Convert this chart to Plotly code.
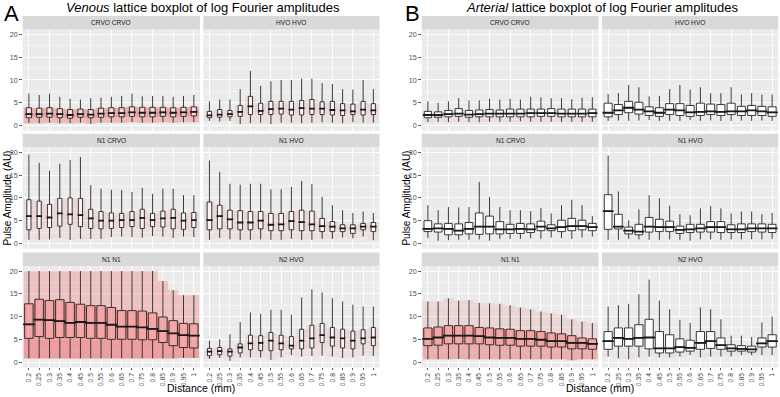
import plotly.graph_objects as go

# ---------------- data ----------------
distances = ["0.2", "0.25", "0.3", "0.35", "0.4", "0.45", "0.5", "0.55", "0.6",
             "0.65", "0.7", "0.75", "0.8", "0.85", "0.9", "0.95", "1"]

# Venous
ven_crvo_crvo_lo = [0.5, 0.5, 0.6, 0.5, 0.5, 0.6, 0.4, 0.6, 0.6, 0.6, 0.7, 0.6, 0.6, 0.7, 0.6, 0.7, 0.7]
ven_crvo_crvo_q1 = [1.7, 1.8, 1.8, 1.7, 1.6, 1.8, 1.7, 1.8, 1.9, 1.9, 2.0, 1.9, 1.9, 2.0, 1.9, 2.0, 2.1]
ven_crvo_crvo_med = [2.5, 2.5, 2.6, 2.5, 2.3, 2.5, 2.4, 2.6, 2.7, 2.7, 2.9, 2.8, 2.8, 2.9, 2.8, 2.9, 3.0]
ven_crvo_crvo_q3 = [3.9, 3.8, 3.9, 3.7, 3.5, 3.6, 3.5, 3.8, 3.9, 3.9, 4.1, 4.0, 4.0, 4.0, 3.9, 4.0, 4.1]
ven_crvo_crvo_hi = [7.0, 6.7, 7.0, 6.3, 5.9, 5.7, 6.0, 6.1, 6.3, 6.5, 7.0, 6.4, 6.5, 6.5, 6.3, 6.5, 6.7]

ven_hvo_hvo_lo = [1.0, 0.9, 1.0, 0.3, 0.5, 0.6, 0.3, 0.6, 0.6, 0.5, 0.6, 0.7, 0.6, 0.5, 0.7, 0.6, 0.6]
ven_hvo_hvo_q1 = [1.7, 1.8, 1.9, 2.0, 2.4, 2.4, 2.4, 2.5, 2.3, 2.3, 2.4, 2.4, 2.3, 2.2, 2.4, 2.3, 2.4]
ven_hvo_hvo_med = [2.2, 2.4, 2.5, 3.0, 4.2, 3.2, 3.6, 3.7, 3.5, 3.8, 3.7, 3.7, 3.4, 3.3, 3.1, 3.5, 3.3]
ven_hvo_hvo_q3 = [3.1, 3.5, 3.3, 4.4, 6.4, 4.9, 5.3, 5.3, 5.3, 5.5, 5.7, 5.2, 5.3, 4.8, 4.7, 5.3, 4.8]
ven_hvo_hvo_hi = [5.3, 5.7, 5.7, 8.0, 12.0, 8.7, 9.7, 10.0, 10.0, 10.3, 10.3, 9.3, 9.1, 8.0, 7.9, 10.0, 8.0]

ven_n1_crvo_lo = [0.8, 0.8, 0.9, 1.2, 0.8, 1.0, 1.0, 1.0, 1.4, 1.5, 1.4, 1.3, 1.6, 1.5, 1.2, 1.5, 1.4]
ven_n1_crvo_q1 = [3.0, 3.3, 3.5, 3.8, 4.2, 3.7, 3.3, 3.2, 3.3, 3.5, 3.7, 3.3, 3.7, 3.6, 3.2, 3.1, 3.5]
ven_n1_crvo_med = [6.0, 6.0, 5.7, 6.6, 6.4, 6.2, 5.5, 5.0, 5.0, 5.1, 5.1, 5.6, 5.1, 5.5, 5.6, 5.0, 5.1]
ven_n1_crvo_q3 = [9.6, 9.3, 8.6, 9.9, 10.0, 9.9, 7.5, 7.0, 6.7, 6.6, 7.0, 7.5, 6.6, 7.1, 7.5, 6.7, 6.8]
ven_n1_crvo_hi = [19.5, 17.7, 16.0, 17.5, 18.3, 19.0, 12.8, 12.0, 11.8, 11.7, 11.3, 12.2, 10.9, 12.0, 12.0, 10.6, 10.6]

ven_n1_hvo_lo = [0.8, 1.2, 0.9, 0.8, 0.8, 0.9, 0.8, 0.8, 1.0, 0.8, 0.8, 1.0, 1.0, 1.3, 1.1, 1.5, 0.7]
ven_n1_hvo_q1 = [3.0, 3.2, 3.2, 3.0, 3.0, 3.2, 2.8, 2.8, 3.0, 2.8, 2.8, 2.6, 2.6, 2.6, 2.2, 3.0, 2.6]
ven_n1_hvo_med = [5.1, 6.0, 5.3, 4.6, 4.6, 5.0, 4.1, 4.2, 4.9, 4.7, 4.2, 3.8, 3.7, 3.3, 3.3, 3.7, 3.7]
ven_n1_hvo_q3 = [9.1, 8.4, 7.3, 7.2, 7.0, 7.0, 6.6, 6.6, 7.0, 7.3, 7.1, 5.5, 4.8, 4.1, 4.1, 4.4, 4.6]
ven_n1_hvo_hi = [18.2, 15.7, 13.1, 12.9, 13.1, 13.1, 11.9, 11.9, 12.4, 13.7, 13.0, 10.2, 8.4, 7.3, 6.7, 7.0, 6.7]

ven_n1_n1_lo = [0.8, 0.8, 0.8, 0.8, 0.8, 0.8, 0.8, 0.8, 0.8, 0.8, 0.8, 0.8, 0.8, 0.8, 0.8, 0.9, 0.9]
ven_n1_n1_q1 = [5.2, 5.6, 5.2, 5.4, 5.4, 5.4, 5.2, 5.2, 5.0, 5.0, 5.0, 4.9, 4.9, 4.3, 3.6, 3.2, 3.1]
ven_n1_n1_med = [8.3, 9.3, 9.2, 9.0, 8.6, 8.8, 8.6, 8.6, 8.2, 7.8, 7.8, 7.6, 7.3, 6.8, 6.3, 5.9, 5.8]
ven_n1_n1_q3 = [12.8, 13.8, 13.5, 13.7, 13.1, 12.7, 12.4, 12.4, 12.0, 11.3, 11.3, 11.2, 10.8, 9.9, 9.1, 8.5, 8.4]
ven_n1_n1_hi = [20.0, 20.0, 20.0, 20.0, 20.0, 20.0, 20.0, 20.0, 20.0, 20.0, 20.0, 20.0, 20.0, 17.8, 15.8, 14.7, 14.7]

ven_n2_hvo_lo = [0.7, 0.9, 0.3, 1.0, 1.0, 1.0, 0.5, 1.0, 1.5, 1.2, 1.3, 1.4, 1.2, 0.9, 1.0, 1.4, 1.3]
ven_n2_hvo_q1 = [1.4, 1.6, 1.3, 2.0, 2.7, 2.5, 2.5, 2.7, 2.9, 2.9, 3.1, 4.3, 3.5, 3.1, 2.9, 4.0, 3.6]
ven_n2_hvo_med = [2.3, 2.4, 2.3, 3.2, 4.1, 4.2, 4.7, 4.1, 3.6, 4.7, 5.2, 5.9, 5.4, 5.2, 4.7, 5.2, 5.4]
ven_n2_hvo_q3 = [3.0, 3.2, 2.9, 4.0, 5.9, 5.8, 6.5, 5.9, 5.6, 7.2, 8.1, 8.5, 7.6, 7.2, 6.8, 7.1, 7.6]
ven_n2_hvo_hi = [4.7, 5.0, 6.1, 8.8, 10.9, 10.6, 11.5, 11.5, 10.4, 14.2, 16.0, 15.3, 14.0, 13.3, 12.6, 12.2, 12.2]

# Arterial
art_crvo_crvo_lo = [0.7, 0.8, 0.7, 0.8, 0.7, 0.7, 0.8, 0.8, 0.8, 0.9, 0.8, 0.8, 0.8, 0.8, 0.8, 0.8, 0.8]
art_crvo_crvo_q1 = [1.7, 1.8, 1.9, 2.0, 1.8, 1.9, 1.9, 1.9, 1.9, 1.9, 1.9, 2.0, 2.0, 1.9, 1.9, 1.9, 1.9]
art_crvo_crvo_med = [2.3, 2.3, 2.5, 2.6, 2.4, 2.5, 2.6, 2.6, 2.6, 2.6, 2.7, 2.7, 2.7, 2.6, 2.6, 2.6, 2.7]
art_crvo_crvo_q3 = [3.1, 3.0, 3.3, 3.7, 3.3, 3.4, 3.5, 3.4, 3.6, 3.6, 3.6, 3.6, 3.7, 3.6, 3.6, 3.6, 3.6]
art_crvo_crvo_hi = [5.3, 5.0, 5.3, 6.0, 5.5, 5.5, 5.9, 5.7, 5.9, 5.7, 6.3, 6.2, 6.0, 6.0, 5.8, 6.1, 6.2]

art_hvo_hvo_lo = [1.0, 1.1, 1.0, 1.1, 1.2, 1.0, 1.0, 1.0, 1.2, 1.0, 1.1, 1.0, 1.0, 1.1, 1.0, 1.1, 1.0]
art_hvo_hvo_q1 = [1.9, 2.4, 2.8, 2.5, 2.2, 2.0, 2.4, 2.2, 2.0, 2.2, 2.4, 2.2, 2.4, 2.2, 2.2, 2.2, 2.0]
art_hvo_hvo_med = [2.8, 3.3, 3.9, 3.5, 3.1, 2.8, 3.5, 3.3, 2.9, 3.0, 3.1, 3.0, 3.1, 3.1, 3.3, 3.1, 2.9]
art_hvo_hvo_q3 = [4.9, 4.6, 5.3, 5.1, 4.1, 3.9, 4.8, 4.8, 4.4, 4.9, 4.7, 4.6, 4.9, 4.2, 4.4, 4.2, 4.1]
art_hvo_hvo_hi = [6.9, 7.1, 8.9, 8.4, 6.4, 6.5, 8.0, 8.9, 7.9, 8.4, 7.1, 7.1, 8.4, 6.8, 7.1, 6.8, 6.8]

art_n1_crvo_lo = [1.2, 0.6, 0.7, 0.8, 0.8, 0.9, 0.6, 1.0, 1.0, 1.0, 1.1, 1.0, 1.3, 1.2, 1.0, 1.3, 1.5]
art_n1_crvo_q1 = [2.6, 2.5, 1.9, 1.9, 2.1, 2.0, 2.1, 2.1, 2.2, 2.2, 2.4, 2.8, 2.8, 2.6, 2.8, 3.0, 2.8]
art_n1_crvo_med = [3.2, 3.3, 3.2, 2.8, 3.2, 3.7, 3.7, 3.1, 3.1, 3.2, 3.1, 3.7, 3.3, 3.6, 3.8, 3.8, 3.6]
art_n1_crvo_q3 = [5.0, 4.3, 4.4, 4.3, 4.6, 6.7, 6.0, 4.8, 4.2, 4.4, 4.3, 4.9, 4.1, 5.1, 5.5, 5.1, 4.4]
art_n1_crvo_hi = [8.4, 7.3, 8.0, 7.9, 8.0, 13.5, 10.2, 8.0, 7.3, 7.3, 7.1, 7.8, 6.6, 8.4, 9.6, 8.4, 6.0]

art_n1_hvo_lo = [0.8, 0.8, 1.0, 0.9, 0.8, 0.8, 0.9, 0.8, 0.6, 0.9, 0.9, 0.8, 0.9, 0.9, 0.9, 0.9, 1.0]
art_n1_hvo_q1 = [3.1, 3.2, 2.1, 1.9, 2.5, 2.6, 2.6, 2.2, 2.4, 2.5, 2.5, 2.4, 2.4, 2.4, 2.6, 2.5, 2.4]
art_n1_hvo_med = [7.1, 3.7, 2.8, 2.6, 3.7, 3.6, 3.6, 3.0, 3.1, 3.3, 3.6, 3.6, 3.1, 3.1, 3.3, 3.3, 3.3]
art_n1_hvo_q3 = [10.7, 6.4, 3.6, 4.2, 5.7, 5.3, 4.9, 3.8, 4.2, 4.2, 4.8, 4.8, 4.1, 4.3, 4.3, 4.3, 4.2]
art_n1_hvo_hi = [19.3, 11.4, 5.1, 7.5, 10.6, 9.9, 8.3, 6.4, 6.2, 7.7, 8.2, 7.7, 6.6, 7.0, 7.0, 6.4, 6.7]

art_n1_n1_lo = [0.6, 0.6, 0.6, 0.7, 0.6, 0.6, 0.6, 0.6, 0.6, 0.6, 0.6, 0.6, 0.6, 0.6, 0.4, 0.6, 0.6]
art_n1_n1_q1 = [3.6, 3.7, 4.0, 4.0, 4.0, 4.0, 3.8, 3.7, 3.7, 3.5, 3.5, 3.5, 3.3, 3.3, 2.9, 2.9, 2.8]
art_n1_n1_med = [5.1, 5.4, 5.8, 5.8, 5.8, 5.7, 5.4, 5.3, 5.3, 5.1, 5.1, 4.9, 4.6, 4.6, 4.2, 4.2, 4.0]
art_n1_n1_q3 = [7.5, 7.7, 8.0, 8.0, 8.0, 7.6, 7.5, 7.3, 7.2, 6.9, 6.9, 6.7, 6.4, 6.2, 5.8, 5.3, 5.1]
art_n1_n1_hi = [13.3, 13.3, 14.0, 13.5, 13.6, 13.0, 12.9, 12.8, 12.5, 12.0, 11.6, 11.1, 10.7, 10.4, 9.4, 8.9, 8.6]

art_n2_hvo_lo = [1.2, 0.8, 0.6, 1.0, 1.2, 1.0, 1.0, 1.2, 1.5, 1.0, 1.2, 1.2, 1.2, 1.5, 1.5, 1.5, 1.5]
art_n2_hvo_q1 = [2.8, 3.5, 3.5, 3.5, 2.9, 2.0, 2.0, 2.2, 2.4, 2.8, 3.0, 2.8, 2.4, 2.4, 2.2, 3.3, 3.3]
art_n2_hvo_med = [4.6, 5.3, 5.1, 5.3, 5.4, 3.0, 3.0, 3.3, 3.1, 4.2, 4.6, 3.7, 3.0, 2.9, 2.8, 4.1, 4.6]
art_n2_hvo_q3 = [6.7, 7.5, 7.5, 8.2, 9.4, 6.7, 6.0, 5.1, 4.8, 6.7, 6.7, 5.3, 3.8, 3.6, 3.5, 5.3, 6.0]
art_n2_hvo_hi = [12.2, 12.5, 12.8, 14.9, 18.1, 13.5, 11.6, 9.3, 8.6, 12.0, 11.6, 9.4, 5.8, 5.8, 5.5, 8.7, 10.0]

y_ticks = [0, 5, 10, 15, 20]

# ---------------- layout geometry (pixels) ----------------
W, H = 780, 397
FONT = "Liberation Sans, Arial, sans-serif"


def fx(px):
    return px / W


def fy(py):
    return 1 - py / H


col_px = {0: [(22.7, 200.0), (203.3, 379.5)], 1: [(421.7, 598.5), (602.0, 778.3)]}
row_px = [(29.5, 130.7), (147.3, 248.7), (266.0, 367.3)]
STRIP = 13.5
X_RANGE = [-0.6, 16.6]
Y_RANGE = [-1.15, 21.1]

# haze layers: (from-stat, to-stat, alpha) drawn as translucent red bands
H_CC_V = [("lo", "q3", 0.16), ("lo", "med", 0.08), ("q1", "q3", 0.18)]
H_FAINT = [("lo", "q3", 0.06), ("q1", "q3", 0.04)]
H_N1N1_V = [("lo", "hi", 0.2), ("lo", "q3", 0.22), ("q1", "q3", 0.12)]
H_N1N1_A = [("lo", "hi", 0.1), ("lo", "q3", 0.22), ("q1", "q3", 0.22)]
H_VFAINT = [("lo", "q3", 0.035)]
H_NONE = []

panels = [
    (0, 0, 0, "CRVO CRVO", ven_crvo_crvo_lo, ven_crvo_crvo_q1, ven_crvo_crvo_med, ven_crvo_crvo_q3, ven_crvo_crvo_hi, 0.5, H_CC_V, "rgba(255,255,255,0.55)"),
    (0, 0, 1, "HVO HVO", ven_hvo_hvo_lo, ven_hvo_hvo_q1, ven_hvo_hvo_med, ven_hvo_hvo_q3, ven_hvo_hvo_hi, 0.4, H_FAINT, "rgba(255,255,255,0.7)"),
    (0, 1, 0, "N1 CRVO", ven_n1_crvo_lo, ven_n1_crvo_q1, ven_n1_crvo_med, ven_n1_crvo_q3, ven_n1_crvo_hi, 0.4, H_FAINT, "rgba(255,255,255,0.7)"),
    (0, 1, 1, "N1 HVO", ven_n1_hvo_lo, ven_n1_hvo_q1, ven_n1_hvo_med, ven_n1_hvo_q3, ven_n1_hvo_hi, 0.45, H_FAINT, "rgba(255,255,255,0.7)"),
    (0, 2, 0, "N1 N1", ven_n1_n1_lo, ven_n1_n1_q1, ven_n1_n1_med, ven_n1_n1_q3, ven_n1_n1_hi, 0.82, H_N1N1_V, "rgba(255,215,215,0.3)"),
    (0, 2, 1, "N2 HVO", ven_n2_hvo_lo, ven_n2_hvo_q1, ven_n2_hvo_med, ven_n2_hvo_q3, ven_n2_hvo_hi, 0.38, H_FAINT, "rgba(255,255,255,0.7)"),
    (1, 0, 0, "CRVO CRVO", art_crvo_crvo_lo, art_crvo_crvo_q1, art_crvo_crvo_med, art_crvo_crvo_q3, art_crvo_crvo_hi, 0.7, H_FAINT, "rgba(255,255,255,0.85)"),
    (1, 0, 1, "HVO HVO", art_hvo_hvo_lo, art_hvo_hvo_q1, art_hvo_hvo_med, art_hvo_hvo_q3, art_hvo_hvo_hi, 0.78, H_NONE, "white"),
    (1, 1, 0, "N1 CRVO", art_n1_crvo_lo, art_n1_crvo_q1, art_n1_crvo_med, art_n1_crvo_q3, art_n1_crvo_hi, 0.75, H_NONE, "white"),
    (1, 1, 1, "N1 HVO", art_n1_hvo_lo, art_n1_hvo_q1, art_n1_hvo_med, art_n1_hvo_q3, art_n1_hvo_hi, 0.75, H_NONE, "white"),
    (1, 2, 0, "N1 N1", art_n1_n1_lo, art_n1_n1_q1, art_n1_n1_med, art_n1_n1_q3, art_n1_n1_hi, 0.8, H_N1N1_A, "rgba(255,215,215,0.3)"),
    (1, 2, 1, "N2 HVO", art_n2_hvo_lo, art_n2_hvo_q1, art_n2_hvo_med, art_n2_hvo_q3, art_n2_hvo_hi, 0.8, H_VFAINT, "rgba(255,255,255,0.9)"),
]

fig = go.Figure()
layout = dict(
    width=W, height=H,
    margin=dict(l=0, r=0, t=0, b=0),
    paper_bgcolor="white",
    plot_bgcolor="#EBEBEB",
    showlegend=False,
    boxmode="overlay",
    font=dict(family=FONT, color="#1A1A1A"),
)
shapes = []
annotations = []

for k, (half, row, col, label, lo, q1, med, q3, hi, bw, haze, fill) in enumerate(panels):
    n = k + 1
    sfx = "" if n == 1 else str(n)
    xref, yref = "x" + sfx, "y" + sfx
    left, right = col_px[half][col]
    top, bottom = row_px[row]
    bottom_row = row == 2
    left_col = col == 0
    stats = {"lo": lo, "q1": q1, "med": med, "q3": q3, "hi": hi}

    layout["xaxis" + sfx] = dict(
        domain=[fx(left), fx(right)], anchor=yref, type="category",
        categoryorder="array", categoryarray=distances, range=X_RANGE,
        showgrid=True, gridcolor="white", gridwidth=0.9, zeroline=False, showline=False,
        showticklabels=bottom_row, ticks="outside" if bottom_row else "",
        ticklen=2, tickwidth=0.8, tickcolor="#333333", tickangle=-90,
        tickfont=dict(size=6.8, color="#4D4D4D", family=FONT), fixedrange=True,
    )
    layout["yaxis" + sfx] = dict(
        domain=[fy(bottom), fy(top)], anchor=xref, range=Y_RANGE,
        tickvals=y_ticks, ticktext=[str(v) for v in y_ticks],
        showgrid=True, gridcolor="white", gridwidth=0.9, zeroline=False, showline=False,
        minor=dict(tickvals=[2.5, 7.5, 12.5, 17.5], showgrid=True, gridcolor="white", gridwidth=0.45),
        showticklabels=left_col, ticks="outside" if left_col else "",
        ticklen=2.5, tickwidth=0.8, tickcolor="#333333",
        tickfont=dict(size=7.2, color="#4D4D4D", family=FONT), fixedrange=True,
    )

    # red haze of the overlaid observations
    for a_key, b_key, alpha in haze:
        a_vals, b_vals = stats[a_key], stats[b_key]
        fig.add_trace(go.Box(
            x=distances, lowerfence=a_vals, q1=a_vals, median=a_vals, q3=b_vals, upperfence=b_vals,
            width=1.0, fillcolor=f"rgba(238,30,30,{alpha})", line=dict(width=0),
            boxpoints=False, hoverinfo="skip", xaxis=xref, yaxis=yref,
        ))

    # box plot
    fig.add_trace(go.Box(
        x=distances, lowerfence=lo, q1=q1, median=med, q3=q3, upperfence=hi,
        width=bw, fillcolor=fill, line=dict(color="#262626", width=0.9),
        whiskerwidth=0, boxpoints=False, xaxis=xref, yaxis=yref,
    ))
    # thicker median bar (ggplot style)
    px_per_cat = (right - left) / (X_RANGE[1] - X_RANGE[0])
    fig.add_trace(go.Scatter(
        x=distances, y=med, mode="markers", xaxis=xref, yaxis=yref, hoverinfo="skip",
        marker=dict(symbol="line-ew", size=bw * px_per_cat, line=dict(width=1.8, color="#1A1A1A")),
    ))

    # facet strip
    shapes.append(dict(type="rect", xref="paper", yref="paper",
                       x0=fx(left), x1=fx(right), y0=fy(top), y1=fy(top - STRIP),
                       fillcolor="#D9D9D9", line=dict(width=0), layer="below"))
    annotations.append(dict(text=label, xref="paper", yref="paper",
                            x=fx((left + right) / 2), y=fy(top - STRIP / 2),
                            xanchor="center", yanchor="middle", showarrow=False,
                            font=dict(size=6.6, color="#1A1A1A", family=FONT)))

# panel letters, titles, axis titles
for half, letter, title in [(0, "A", "<i>Venous</i> lattice boxplot of log Fourier amplitudes"),
                            (1, "B", "<i>Arterial</i> lattice boxplot of log Fourier amplitudes")]:
    left = col_px[half][0][0]
    right = col_px[half][1][1]
    lx = 2 if half == 0 else 403
    annotations.append(dict(text=letter, xref="paper", yref="paper", x=fx(lx), y=fy(14),
                            xanchor="left", yanchor="middle", showarrow=False,
                            font=dict(size=22, color="black", family=FONT)))
    annotations.append(dict(text=title, xref="paper", yref="paper", x=fx((left + right) / 2 + 2),
                            y=fy(7.5), xanchor="center", yanchor="middle", showarrow=False,
                            font=dict(size=13, color="black", family=FONT)))
    annotations.append(dict(text="Distance (mm)", xref="paper", yref="paper", x=fx((left + right) / 2),
                            y=fy(388), xanchor="center", yanchor="middle", showarrow=False,
                            font=dict(size=10.5, color="black", family=FONT)))
    annotations.append(dict(text="Pulse Amplitude (AU)", xref="paper", yref="paper",
                            x=fx(left - 15.5), y=fy((row_px[0][0] + row_px[2][1]) / 2),
                            xanchor="center", yanchor="middle", textangle=-90, showarrow=False,
                            font=dict(size=10, color="black", family=FONT)))

layout["shapes"] = shapes
layout["annotations"] = annotations
fig.update_layout(**layout)
fig.write_html(
    "out.html",
    config={"displayModeBar": False, "staticPlot": True},
    post_script="document.body.style.margin='0';document.body.style.overflow='hidden';",
)
